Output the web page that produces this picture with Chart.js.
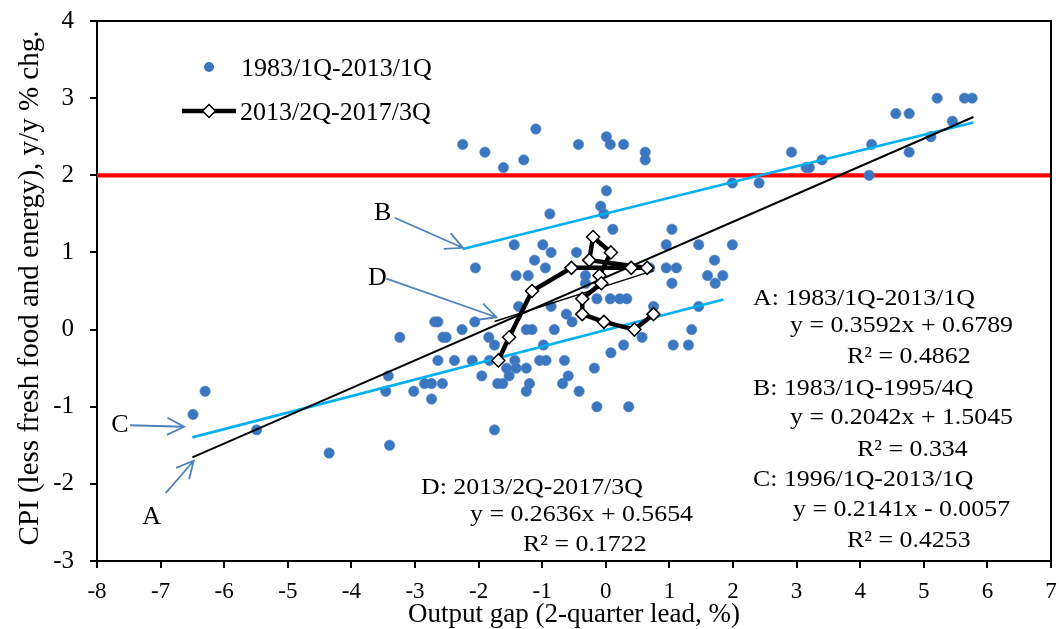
<!DOCTYPE html>
<html>
<head>
<meta charset="utf-8">
<script src="https://cdn.jsdelivr.net/npm/chart.js@4.4.0/dist/chart.umd.min.js"></script>
<style>
  html, body { margin: 0; padding: 0; background: #ffffff; }
</style>
</head>
<body>
<canvas id="PhillipsChart" width="1059" height="629"></canvas>
<script>
(function () {
  "use strict";

  // 1983/1Q-2013/1Q : output gap (2-quarter lead) and core CPI
  const gapPre = [
    -2.25, -1.90, -1.61, -1.29, -1.10, -0.43, 0.01, 0.07, 0.28, 0.62, 0.62,
    5.21, 5.64, 5.76, 4.56, 4.77, 5.45, 5.11, 4.18, 4.77, 2.92, 3.40, 3.15, 3.20, 4.14, 1.99, 2.41,
    0.01, -0.08, -0.03, -0.88, 0.11, 1.04,
    -1.44, -0.99, 0.95, 1.46, 1.99, -0.86, -0.46, -1.12, 1.71,
    -2.05, -0.95, 0.69, 0.95, 1.11, -1.41, -1.22, -0.32, 1.60, 1.84,
    -0.32, 1.04, 1.72, -0.14, 0.07, 0.22, 0.33, -1.37, -0.86, 0.75, 1.46, -0.62,
    -2.69, -2.64, -2.06, -0.53, -2.26, -1.25, -1.16, -0.81, 1.35,
    -3.24, -2.56, -2.51, -1.84, 0.57, -1.75, -0.98, 0.28, 1.06, 1.30, 0.08,
    -2.64, -2.38, -2.10, -1.83, -1.43, -1.04, -0.94, -0.65,
    -1.56, -1.41, -1.25, -0.18, -3.42, -1.95, -1.52, -0.59,
    -2.85, -2.74, -2.57, -1.70, -1.62, -1.20, -0.68,
    -3.46, -3.02, -1.25, -0.42, -2.74, -0.14, 0.36,
    -6.30, -6.49, -5.49, -1.75, -3.40, -4.35
  ];
  const cpiPre = [
    2.4, 2.3, 2.1, 2.2, 2.6, 2.4, 2.5, 2.4, 2.4, 2.3, 2.2,
    3.0, 3.0, 3.0, 2.8, 2.8, 2.7, 2.5, 2.4, 2.3, 2.3, 2.2, 2.1, 2.1, 2.0, 1.9, 1.9,
    1.8, 1.6, 1.5, 1.5, 1.3, 1.3,
    1.1, 1.1, 1.1, 1.1, 1.1, 1.0, 1.0, 0.9, 0.9,
    0.8, 0.8, 0.8, 0.8, 0.8, 0.7, 0.7, 0.7, 0.7, 0.7,
    0.6, 0.6, 0.6, 0.4, 0.4, 0.4, 0.4, 0.3, 0.3, 0.3, 0.3, 0.2,
    0.1, 0.1, 0.1, 0.1, 0.0, 0.0, 0.0, 0.0, 0.0,
    -0.1, -0.1, -0.1, -0.1, -0.1, -0.2, -0.2, -0.2, -0.2, -0.2, -0.3,
    -0.4, -0.4, -0.4, -0.4, -0.4, -0.4, -0.4, -0.4,
    -0.5, -0.5, -0.5, -0.5, -0.6, -0.6, -0.6, -0.6,
    -0.7, -0.7, -0.7, -0.7, -0.7, -0.7, -0.7,
    -0.8, -0.8, -0.8, -0.8, -0.9, -1.0, -1.0,
    -0.8, -1.1, -1.3, -1.3, -1.5, -1.6
  ];

  // 2013/2Q-2017/3Q path
  const gapPost = [-1.69, -1.52, -1.16, -0.54, 0.40, 0.65, -0.26, -0.20, 0.08, -0.10, -0.07, -0.37, -0.37, -0.03, 0.45, 0.75];
  const cpiPost = [-0.4, -0.1, 0.5, 0.8, 0.8, 0.8, 0.9, 1.2, 1.0, 0.7, 0.6, 0.4, 0.2, 0.1, 0.0, 0.2];

  // fitted lines A-D
  const trendNames     = ['A', 'B', 'C', 'D'];
  const trendPeriods   = ['1983/1Q-2013/1Q', '1983/1Q-1995/4Q', '1996/1Q-2013/1Q', '2013/2Q-2017/3Q'];
  const trendSlope     = [0.3592, 0.2042, 0.2141, 0.2636];
  const trendIntercept = [0.6789, 1.5045, -0.0057, 0.5654];
  const trendR2        = ['0.4862', '0.334', '0.4253', '0.1722'];
  const trendFrom      = [-6.5, -2.25, -6.5, -1.75];
  const trendTo        = [5.78, 5.78, 1.85, 0.75];

  const priceTarget = 2;
  const xRange = [-8, 7];
  const yRange = [-3, 4];

  const seriesNames = ['1983/1Q-2013/1Q', '2013/2Q-2017/3Q'];
  const xTitle = 'Output gap (2-quarter lead, %)';
  const yTitle = 'CPI (less fresh food and energy), y/y % chg.';

  // Colors
  const dot_blue   = '#3b77c0';
  const fit_cyan   = '#00b0f0';
  const arrow_blue = '#4f81bd';
  const serif      = "'Liberation Serif', 'Times New Roman', serif";

  // where the letters and arrows sit (data units)
  const arrowFrom  = [[-6.92, -2.12], [-3.32, 1.45], [-7.48, -1.24], [-3.45, 0.66]];
  const arrowTo    = [[-6.48, -1.70], [-2.25, 1.06], [-6.63, -1.26], [-1.72, 0.16]];
  const letterAt   = [[-7.14, -2.43], [-3.51, 1.51], [-7.64, -1.24], [-3.59, 0.67]];

  // equation blocks, canvas px: [titleX, titleY, eqX, eqY, r2X, r2Y]
  const blockPos = [
    [753, 305, 790, 332, 847, 363],
    [753, 395, 790, 424, 857, 456],
    [753, 486, 793, 516, 847, 547],
    [421, 494, 470, 521, 523, 551]
  ];

  const toPoints = (xs, ys) => xs.map((v, i) => ({ x: v, y: ys[i] }));

  function equation(i) {
    const b = trendIntercept[i];
    return 'y = ' + trendSlope[i].toFixed(4) + 'x ' + (b < 0 ? '- ' : '+ ') + Math.abs(b).toFixed(4);
  }

  function stretchText(ctx, str, x, y, sx, align) {
    ctx.save();
    ctx.translate(x, y);
    ctx.scale(sx, 1);
    ctx.textAlign = align || 'left';
    ctx.fillText(str, 0, 0);
    ctx.restore();
  }

  function drawArrow(ctx, x0, y0, x1, y1) {
    const ang = Math.atan2(y1 - y0, x1 - x0);
    const len = 19, spread = 0.47;
    ctx.beginPath();
    ctx.moveTo(x0, y0);
    ctx.lineTo(x1, y1);
    ctx.moveTo(x1 - len * Math.cos(ang - spread), y1 - len * Math.sin(ang - spread));
    ctx.lineTo(x1, y1);
    ctx.lineTo(x1 - len * Math.cos(ang + spread), y1 - len * Math.sin(ang + spread));
    ctx.stroke();
  }

  // no extra room for overflowing end labels: the plot box is fixed by the padding
  function noOverflow(s) {
    s.paddingTop = 0;
    s.paddingBottom = 0;
    s.paddingLeft = 0;
    s.paddingRight = 0;
  }

  const decorPlugin = {
    id: 'decor',
    afterDatasetsDraw(chart) {
      const { ctx, chartArea: a, scales: { x, y } } = chart;
      ctx.save();

      // plot frame (top and right)
      ctx.strokeStyle = '#000';
      ctx.lineWidth = 2;
      ctx.beginPath();
      ctx.moveTo(a.left - 7, a.top);
      ctx.lineTo(a.right, a.top);
      ctx.lineTo(a.right, a.bottom);
      ctx.stroke();

      // arrows + letters
      ctx.strokeStyle = arrow_blue;
      ctx.lineWidth = 1.8;
      ctx.fillStyle = '#000';
      ctx.font = '26px ' + serif;
      ctx.textBaseline = 'middle';
      trendNames.forEach((n, i) => {
        drawArrow(ctx,
          x.getPixelForValue(arrowFrom[i][0]), y.getPixelForValue(arrowFrom[i][1]),
          x.getPixelForValue(arrowTo[i][0]), y.getPixelForValue(arrowTo[i][1]));
        ctx.textAlign = 'center';
        ctx.fillText(n, x.getPixelForValue(letterAt[i][0]), y.getPixelForValue(letterAt[i][1]));
      });

      // equation blocks
      ctx.font = '23.5px ' + serif;
      ctx.textBaseline = 'alphabetic';
      trendNames.forEach((n, i) => {
        const p = blockPos[i];
        stretchText(ctx, n + ': ' + trendPeriods[i], p[0], p[1], 1.1);
        stretchText(ctx, equation(i), p[2], p[3], 1.1);
        stretchText(ctx, 'R\u00b2 = ' + trendR2[i], p[4], p[5], 1.1);
      });

      // legend
      ctx.font = '26px ' + serif;
      ctx.fillStyle = dot_blue;
      ctx.beginPath();
      ctx.arc(209, 67, 5, 0, Math.PI * 2);
      ctx.fill();
      ctx.strokeStyle = '#000';
      ctx.lineWidth = 4.5;
      ctx.beginPath();
      ctx.moveTo(182, 111);
      ctx.lineTo(236, 111);
      ctx.stroke();
      ctx.fillStyle = '#fff';
      ctx.lineWidth = 1.5;
      ctx.beginPath();
      ctx.moveTo(202.5, 111); ctx.lineTo(209, 104.5); ctx.lineTo(215.5, 111); ctx.lineTo(209, 117.5);
      ctx.closePath();
      ctx.fill();
      ctx.stroke();
      ctx.fillStyle = '#000';
      ctx.textAlign = 'left';
      ctx.fillText(seriesNames[0], 241, 76);
      ctx.fillText(seriesNames[1], 240, 120);

      // axis titles
      ctx.font = '27px ' + serif;
      ctx.textAlign = 'center';
      ctx.fillText(xTitle, (a.left + a.right) / 2, 622);
      ctx.save();
      ctx.translate(38, 288);
      ctx.rotate(-Math.PI / 2);
      ctx.font = '29px ' + serif;
      ctx.fillText(yTitle, 0, 0);
      ctx.restore();

      ctx.restore();
    }
  };

  const trendSets = trendNames.map((n, i) => ({
    label: 'Fit ' + n,
    data: [trendFrom[i], trendTo[i]].map(v => ({ x: v, y: trendSlope[i] * v + trendIntercept[i] })),
    showLine: true,
    borderColor: (n === 'B' || n === 'C') ? fit_cyan : '#000',
    borderWidth: (n === 'B' || n === 'C') ? 2.6 : (n === 'D' ? 1.4 : 2),
    pointRadius: 0,
    order: 1
  }));

  const ctx = document.getElementById('PhillipsChart').getContext('2d');
  new Chart(ctx, {
    type: 'scatter',
    data: {
      datasets: [
        {
          label: seriesNames[1],
          data: toPoints(gapPost, cpiPost),
          showLine: true,
          borderColor: '#000',
          borderWidth: 4.5,
          pointStyle: 'rectRot',
          pointRadius: 6.5,
          pointBackgroundColor: '#fff',
          pointBorderColor: '#000',
          pointBorderWidth: 1.5,
          order: 0
        },
        ...trendSets,
        {
          label: seriesNames[0],
          data: toPoints(gapPre, cpiPre),
          pointRadius: 5.2,
          pointBackgroundColor: dot_blue,
          pointBorderColor: 'rgba(79,129,189,0.55)',
          pointBorderWidth: 1,
          order: 2
        },
        {
          label: 'Target',
          data: xRange.map(v => ({ x: v, y: priceTarget })),
          showLine: true,
          borderColor: '#ff0000',
          borderWidth: 4.2,
          pointRadius: 0,
          order: 3
        }
      ]
    },
    options: {
      responsive: false,
      animation: false,
      layout: { padding: { top: 21, right: 7, left: 0, bottom: 0 } },
      scales: {
        x: {
          type: 'linear',
          min: xRange[0],
          max: xRange[1],
          afterFit: s => { s.height = 68; noOverflow(s); },
          ticks: { stepSize: 1, padding: 10, color: '#000', font: { family: serif, size: 23 } },
          grid: { drawOnChartArea: false, drawTicks: true, tickLength: 7, color: '#000', lineWidth: 2 },
          border: { display: true, color: '#000', width: 2 }
        },
        y: {
          min: yRange[0],
          max: yRange[1],
          afterFit: s => { s.width = 97; noOverflow(s); },
          ticks: { stepSize: 1, padding: 16, color: '#000', font: { family: serif, size: 25 } },
          grid: { drawOnChartArea: false, drawTicks: true, tickLength: 7, color: '#000', lineWidth: 2 },
          border: { display: true, color: '#000', width: 2 }
        }
      },
      plugins: {
        legend: { display: false },
        tooltip: { enabled: false }
      }
    },
    plugins: [decorPlugin]
  });

})();
</script>
</body>
</html>
